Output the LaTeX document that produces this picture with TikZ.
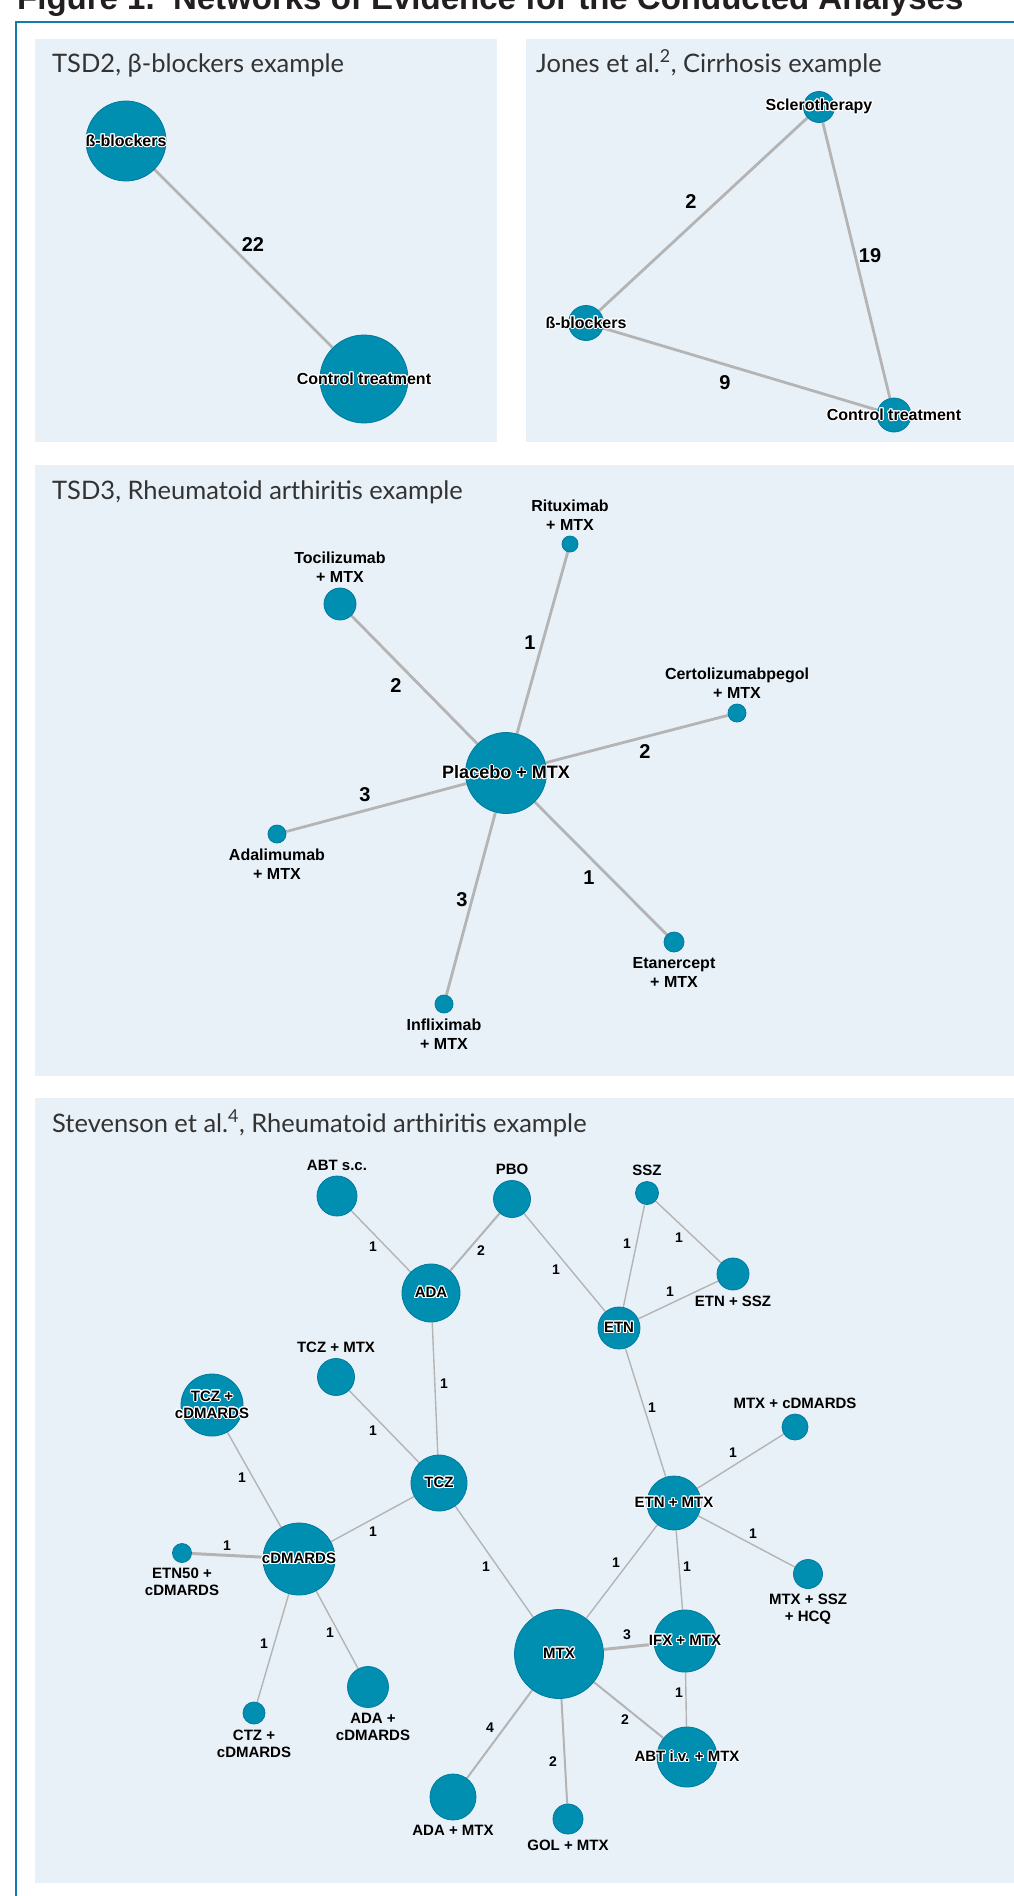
\documentclass[tikz,border=0pt]{standalone}
\usepackage{fontspec}
\setmainfont{Liberation Sans}
\newfontfamily\headfont{Lato}
\usepackage{contour}
\contourlength{1pt}
\definecolor{nodeblue}{RGB}{0,142,177}
\definecolor{nodeedge}{RGB}{0,122,160}
\definecolor{linkgray}{RGB}{180,180,180}
\definecolor{panelbg}{RGB}{233,241,248}
\definecolor{frameblue}{RGB}{18,124,178}
\definecolor{titleblk}{RGB}{35,31,32}
\definecolor{headgray}{RGB}{51,51,51}
\pgfdeclarelayer{back}
\pgfdeclarelayer{edges}
\pgfsetlayers{back,edges,main}
\newcommand\hl[1]{\contour{white}{#1}}

\begin{document}
\begin{tikzpicture}[x=1pt,y=-1pt,label distance=5pt]
    \tikzstyle{trt}=[circle,fill=nodeblue,draw=nodeedge,line width=0.8pt,inner sep=0pt]
    \tikzstyle{lab}=[font=\bfseries\fontsize{16}{19}\selectfont,inner sep=0pt,align=center]
    \tikzstyle{slab}=[font=\bfseries\fontsize{15}{17}\selectfont,inner sep=0pt,align=center]
    \tikzstyle{num}=[font=\bfseries\fontsize{20}{24}\selectfont,inner sep=0pt]
    \tikzstyle{snum}=[font=\bfseries\fontsize{14}{16}\selectfont,inner sep=0pt]
    \tikzstyle{link}=[draw=linkgray,line width=2.8pt]
    \tikzstyle{slink}=[draw=linkgray,line width=1.4pt]
    \tikzstyle{head}=[font=\headfont\fontsize{25.5}{30}\selectfont,text=headgray,anchor=base west,inner sep=0pt]
    \useasboundingbox (0,0) rectangle (1013,1896);
    \clip (0,0) rectangle (1013,1896);

    % frame and panels
    \begin{pgfonlayer}{back}
      \fill[white] (0,0) rectangle (1013,1896);
      \fill[panelbg] (35,39) rectangle (497,442);
      \fill[panelbg] (526,39) rectangle (1020,442);
      \fill[panelbg] (35,465) rectangle (1020,1076);
      \fill[panelbg] (35,1098) rectangle (1020,1883);
      \draw[frameblue,line width=2.5pt] (16,1900) -- (16,22) -- (1020,22);
    \end{pgfonlayer}
    \node (fig) at (17,9) [anchor=base west,inner sep=0pt,text=titleblk,font=\bfseries\fontsize{33}{36}\selectfont] {Figure 1.\ \ Networks of Evidence for the Conducted Analyses};

    % TSD2
    \node (h1) at (52,72) [head] {TSD2, β-blockers example};
    \node (bb1) at (126,141) [trt,minimum size=80pt,label={[lab]center:\hl{ß-blockers}}] {};
    \node (ct1) at (364,379) [trt,minimum size=88pt,label={[lab]center:\hl{Control treatment}}] {};
    \node (n1) at (253,245) [num] {22};

    % Jones et al.
    \node (h2) at (536,72) [head] {Jones et al.\textsuperscript{2}, Cirrhosis example};
    \node (sc2) at (819,107) [trt,minimum size=31pt,label={[lab]center:\hl{Sclerotherapy}}] {};
    \node (bb2) at (586,323) [trt,minimum size=35pt,label={[lab]center:\hl{ß-blockers}}] {};
    \node (ct2) at (894,415) [trt,minimum size=34pt,label={[lab]center:\hl{Control treatment}}] {};
    \node (n2) at (691,202) [num] {2};
    \node (n3) at (870,256) [num] {19};
    \node (n4) at (725,383) [num] {9};

    % TSD3
    \node (h3) at (52,499) [head] {TSD3, Rheumatoid arthiritis example};
    \node (pl3) at (506,773) [trt,minimum size=81pt,label={[lab,font=\bfseries\fontsize{18}{21}\selectfont]center:\hl{Placebo + MTX}}] {};
    \node (rit) at (570,544) [trt,minimum size=16pt,label={[lab]above:Rituximab\\+ MTX}] {};
    \node (toc) at (340,604) [trt,minimum size=32pt,label={[lab]above:Tocilizumab\\+ MTX}] {};
    \node (cer) at (737,713) [trt,minimum size=18pt,label={[lab]above:Certolizumabpegol\\+ MTX}] {};
    \node (ada3) at (277,834) [trt,minimum size=18pt,label={[lab]below:Adalimumab\\+ MTX}] {};
    \node (eta) at (674,942) [trt,minimum size=20pt,label={[lab]below:Etanercept\\+ MTX}] {};
    \node (inf) at (444,1004) [trt,minimum size=18pt,label={[lab]below:Infliximab\\+ MTX}] {};
    \node (n5) at (530,643) [num] {1};
    \node (n6) at (396,686) [num] {2};
    \node (n7) at (645,752) [num] {2};
    \node (n8) at (365,795) [num] {3};
    \node (n9) at (589,878) [num] {1};
    \node (n10) at (462,900) [num] {3};

    % Stevenson et al.
    \node (h4) at (52,1132) [head] {Stevenson et al.\textsuperscript{4}, Rheumatoid arthiritis example};
    \node (abt) at (337,1196) [trt,minimum size=40pt,label={[slab]above:ABT s.c.}] {};
    \node (pbo) at (512,1199) [trt,minimum size=37pt,label={[slab]above:PBO}] {};
    \node (ssz) at (647,1193) [trt,minimum size=23pt,label={[slab]above:SSZ}] {};
    \node (ada) at (431,1293) [trt,minimum size=58pt,label={[slab]center:\hl{ADA}}] {};
    \node (etnssz) at (733,1274) [trt,minimum size=32pt,label={[slab]below:ETN + SSZ}] {};
    \node (etn) at (619,1328) [trt,minimum size=42pt,label={[slab]center:\hl{ETN}}] {};
    \node (tczmtx) at (336,1377) [trt,minimum size=37pt,label={[slab]above:TCZ + MTX}] {};
    \node (tczcd) at (212,1405) [trt,minimum size=62pt,label={[slab]center:\hl{TCZ +}\\\hl{cDMARDS}}] {};
    \node (mtxcd) at (795,1427) [trt,minimum size=26pt,label={[slab]above:MTX + cDMARDS}] {};
    \node (tcz) at (439,1483) [trt,minimum size=56pt,label={[slab]center:\hl{TCZ}}] {};
    \node (etnmtx) at (674,1503) [trt,minimum size=54pt,label={[slab]center:\hl{ETN + MTX}}] {};
    \node (cdm) at (299,1559) [trt,minimum size=72pt,label={[slab]center:\hl{cDMARDS}}] {};
    \node (etn50) at (182,1553) [trt,minimum size=19pt,label={[slab]below:ETN50 +\\cDMARDS}] {};
    \node (mtxssz) at (808,1574) [trt,minimum size=29pt,label={[slab]below:MTX + SSZ\\+ HCQ}] {};
    \node (mtx) at (559,1654) [trt,minimum size=89pt,label={[slab]center:\hl{MTX}}] {};
    \node (ifx) at (685,1641) [trt,minimum size=62pt,label={[slab]center:\hl{IFX + MTX}}] {};
    \node (adacd) at (368,1687) [trt,minimum size=41pt,label={[slab,xshift=5pt]below:ADA +\\cDMARDS}] {};
    \node (ctz) at (254,1713) [trt,minimum size=22pt,label={[slab]below:CTZ +\\cDMARDS}] {};
    \node (abtiv) at (687,1757) [trt,minimum size=60pt,label={[slab]center:\hl{ABT i.v. + MTX}}] {};
    \node (adamtx) at (453,1797) [trt,minimum size=46pt,label={[slab]below:ADA + MTX}] {};
    \node (gol) at (568,1819) [trt,minimum size=30pt,label={[slab]below:GOL + MTX}] {};

    \node (m1) at (373,1247) [snum] {1};
    \node (m2) at (481,1251) [snum] {2};
    \node (m3) at (556,1270) [snum] {1};
    \node (m4) at (627,1244) [snum] {1};
    \node (m5) at (679,1238) [snum] {1};
    \node (m6) at (670,1292) [snum] {1};
    \node (m7) at (444,1384) [snum] {1};
    \node (m8) at (373,1431) [snum] {1};
    \node (m9) at (652,1408) [snum] {1};
    \node (m10) at (733,1453) [snum] {1};
    \node (m11) at (242,1478) [snum] {1};
    \node (m12) at (373,1532) [snum] {1};
    \node (m13) at (227,1546) [snum] {1};
    \node (m14) at (486,1567) [snum] {1};
    \node (m15) at (753,1534) [snum] {1};
    \node (m16) at (616,1563) [snum] {1};
    \node (m17) at (687,1567) [snum] {1};
    \node (m18) at (264,1644) [snum] {1};
    \node (m19) at (330,1633) [snum] {1};
    \node (m20) at (627,1635) [snum] {3};
    \node (m21) at (679,1693) [snum] {1};
    \node (m22) at (625,1720) [snum] {2};
    \node (m23) at (490,1728) [snum] {4};
    \node (m24) at (553,1762) [snum] {2};

    \begin{pgfonlayer}{edges}
      \path (bb1) edge[link] (ct1);

      \path (sc2) edge[link] (bb2);
      \path (sc2) edge[link] (ct2);
      \path (bb2) edge[link] (ct2);

      \path (pl3) edge[link] (rit);
      \path (pl3) edge[link] (toc);
      \path (pl3) edge[link] (cer);
      \path (pl3) edge[link] (ada3);
      \path (pl3) edge[link] (eta);
      \path (pl3) edge[link] (inf);

      \path (abt) edge[slink] (ada);
      \path (pbo) edge[slink,line width=2pt] (ada);
      \path (pbo) edge[slink] (etn);
      \path (ssz) edge[slink] (etn);
      \path (ssz) edge[slink] (etnssz);
      \path (etnssz) edge[slink] (etn);
      \path (ada) edge[slink] (tcz);
      \path (tczmtx) edge[slink] (tcz);
      \path (etn) edge[slink] (etnmtx);
      \path (mtxcd) edge[slink] (etnmtx);
      \path (tczcd) edge[slink] (cdm);
      \path (tcz) edge[slink] (cdm);
      \path (etn50) edge[slink,line width=3pt] (cdm);
      \path (tcz) edge[slink] (mtx);
      \path (etnmtx) edge[slink] (mtxssz);
      \path (etnmtx) edge[slink] (mtx);
      \path (etnmtx) edge[slink] (ifx);
      \path (cdm) edge[slink] (ctz);
      \path (cdm) edge[slink] (adacd);
      \path (mtx) edge[slink,line width=3pt] (ifx);
      \path (ifx) edge[slink] (abtiv);
      \path (mtx) edge[slink,line width=2pt] (abtiv);
      \path (mtx) edge[slink,line width=2pt] (adamtx);
      \path (mtx) edge[slink,line width=2pt] (gol);
    \end{pgfonlayer}
\end{tikzpicture}
\end{document}
